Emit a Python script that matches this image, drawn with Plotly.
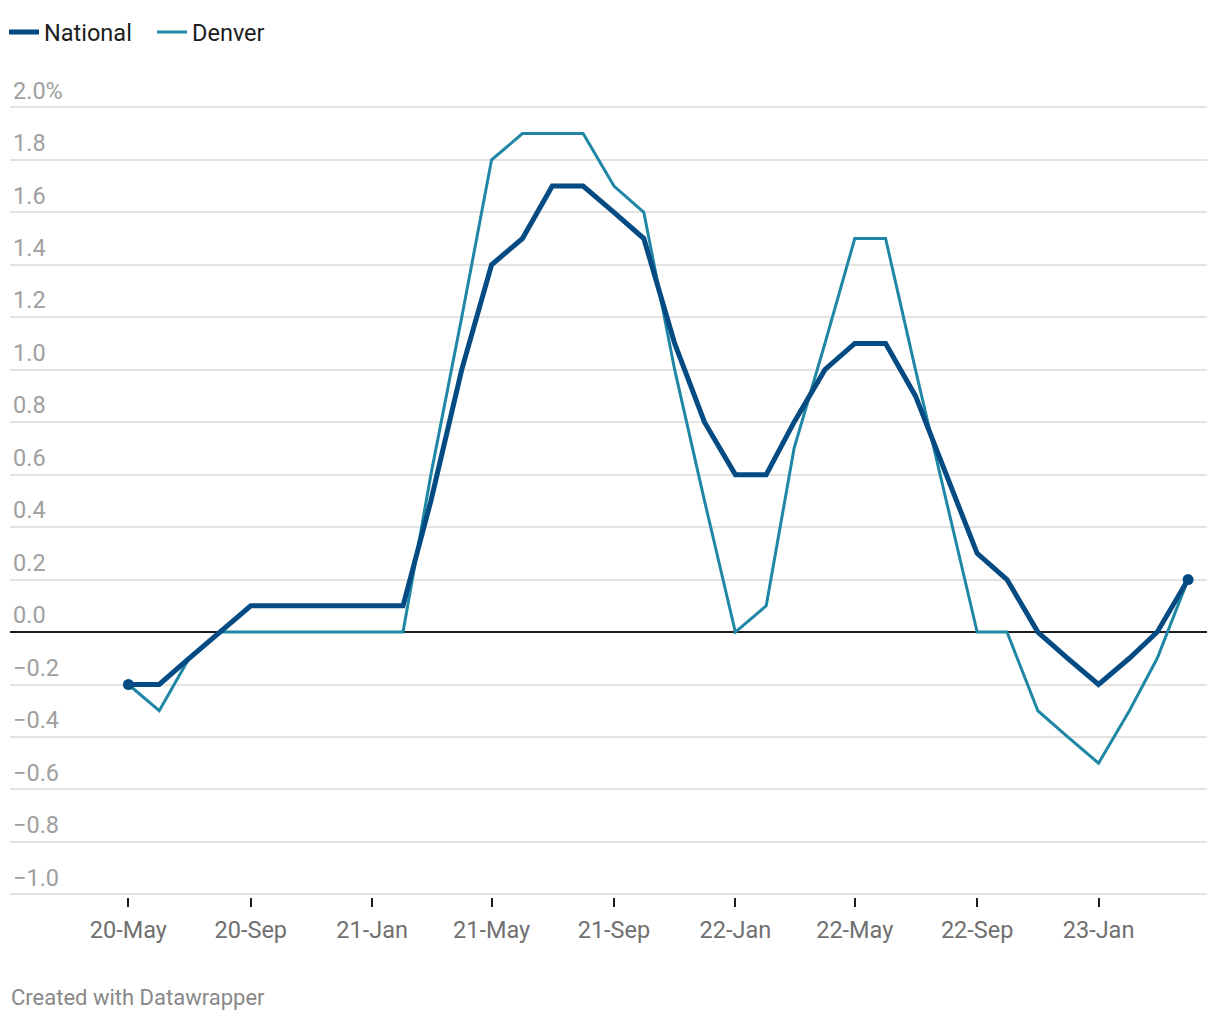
import plotly.graph_objects as go

months = ["2020-05-01", "2020-06-01", "2020-07-01", "2020-08-01", "2020-09-01", "2020-10-01",
          "2020-11-01", "2020-12-01", "2021-01-01", "2021-02-01", "2021-03-01", "2021-04-01",
          "2021-05-01", "2021-06-01", "2021-07-01", "2021-08-01", "2021-09-01", "2021-10-01",
          "2021-11-01", "2021-12-01", "2022-01-01", "2022-02-01", "2022-03-01", "2022-04-01",
          "2022-05-01", "2022-06-01", "2022-07-01", "2022-08-01", "2022-09-01", "2022-10-01",
          "2022-11-01", "2022-12-01", "2023-01-01", "2023-02-01", "2023-03-01", "2023-04-01"]

national = [-0.2, -0.2, -0.1, 0.0, 0.1, 0.1, 0.1, 0.1, 0.1, 0.1, 0.5, 1.0,
            1.4, 1.5, 1.7, 1.7, 1.6, 1.5, 1.1, 0.8, 0.6, 0.6, 0.8, 1.0,
            1.1, 1.1, 0.9, 0.6, 0.3, 0.2, 0.0, -0.1, -0.2, -0.1, 0.0, 0.2]

denver = [-0.2, -0.3, -0.1, 0.0, 0.0, 0.0, 0.0, 0.0, 0.0, 0.0, 0.6, 1.2,
          1.8, 1.9, 1.9, 1.9, 1.7, 1.6, 1.0, 0.5, 0.0, 0.1, 0.7, 1.1,
          1.5, 1.5, 1.0, 0.5, 0.0, 0.0, -0.3, -0.4, -0.5, -0.3, -0.1, 0.2]

y_tickvals = [2.0, 1.8, 1.6, 1.4, 1.2, 1.0, 0.8, 0.6, 0.4, 0.2, 0.0, -0.2, -0.4, -0.6, -0.8, -1.0]
y_ticktext = ["2.0%", "1.8", "1.6", "1.4", "1.2", "1.0", "0.8", "0.6", "0.4", "0.2", "0.0",
              "\u22120.2", "\u22120.4", "\u22120.6", "\u22120.8", "\u22121.0"]

NAT_COLOR = "#034b82"
DEN_COLOR = "#1f87a5"
FONT = "Roboto"

fig = go.Figure()
fig.add_trace(go.Scatter(x=months, y=denver, name="Denver", mode="lines",
                         line=dict(color=DEN_COLOR, width=3)))
fig.add_trace(go.Scatter(x=months, y=national, name="National", mode="lines",
                         line=dict(color=NAT_COLOR, width=5)))
fig.add_trace(go.Scatter(x=[months[0], months[-1]], y=[national[0], national[-1]],
                         mode="markers", showlegend=False,
                         marker=dict(color=NAT_COLOR, size=11)))

fig.update_layout(
    width=1220, height=1020,
    margin=dict(l=10, r=13, t=68, b=123),
    paper_bgcolor="white", plot_bgcolor="white",
    font=dict(family=FONT, size=23, color="#1d1d1d"),
    showlegend=True,
    legend=dict(orientation="h", x=-0.005, y=0.99, xref="paper", yref="container",
                xanchor="left", yanchor="top", traceorder="reversed",
                font=dict(size=23.5, color="#1d1d1d"), itemwidth=30,
                entrywidth=103, entrywidthmode="pixels",
                bgcolor="rgba(0,0,0,0)"),
    xaxis=dict(
        type="date",
        range=["2020-01-03", "2023-04-20"],
        tickmode="linear", tick0="2020-05-01", dtick="M4",
        tickformat="%y-%b",
        showgrid=False, zeroline=False, showline=False,
        ticks="outside", ticklen=9, tickwidth=2, tickcolor="#1d1d1d",
        tickfont=dict(family=FONT, size=23.5, color="#707070"),
        ticklabelstandoff=3,
    ),
    yaxis=dict(
        range=[-1.01, 2.15],
        tickmode="array", tickvals=y_tickvals, ticktext=y_ticktext,
        ticklabelposition="inside", ticklabelshift=-17,
        tickfont=dict(family=FONT, size=23.5, color="#a0a0a0"),
        showgrid=True, gridcolor="#e3e3e3", gridwidth=1.5,
        zeroline=True, zerolinecolor="#1d1d1d", zerolinewidth=1.5,
        showline=False, ticks="",
    ),
)

fig.add_annotation(text="Created with Datawrapper", xref="paper", yref="paper",
                   x=0, y=-0.1212, xanchor="left", yanchor="middle", showarrow=False,
                   xshift=-1,
                   font=dict(family=FONT, size=22, color="#888888"))

fig.write_html("out.html")
